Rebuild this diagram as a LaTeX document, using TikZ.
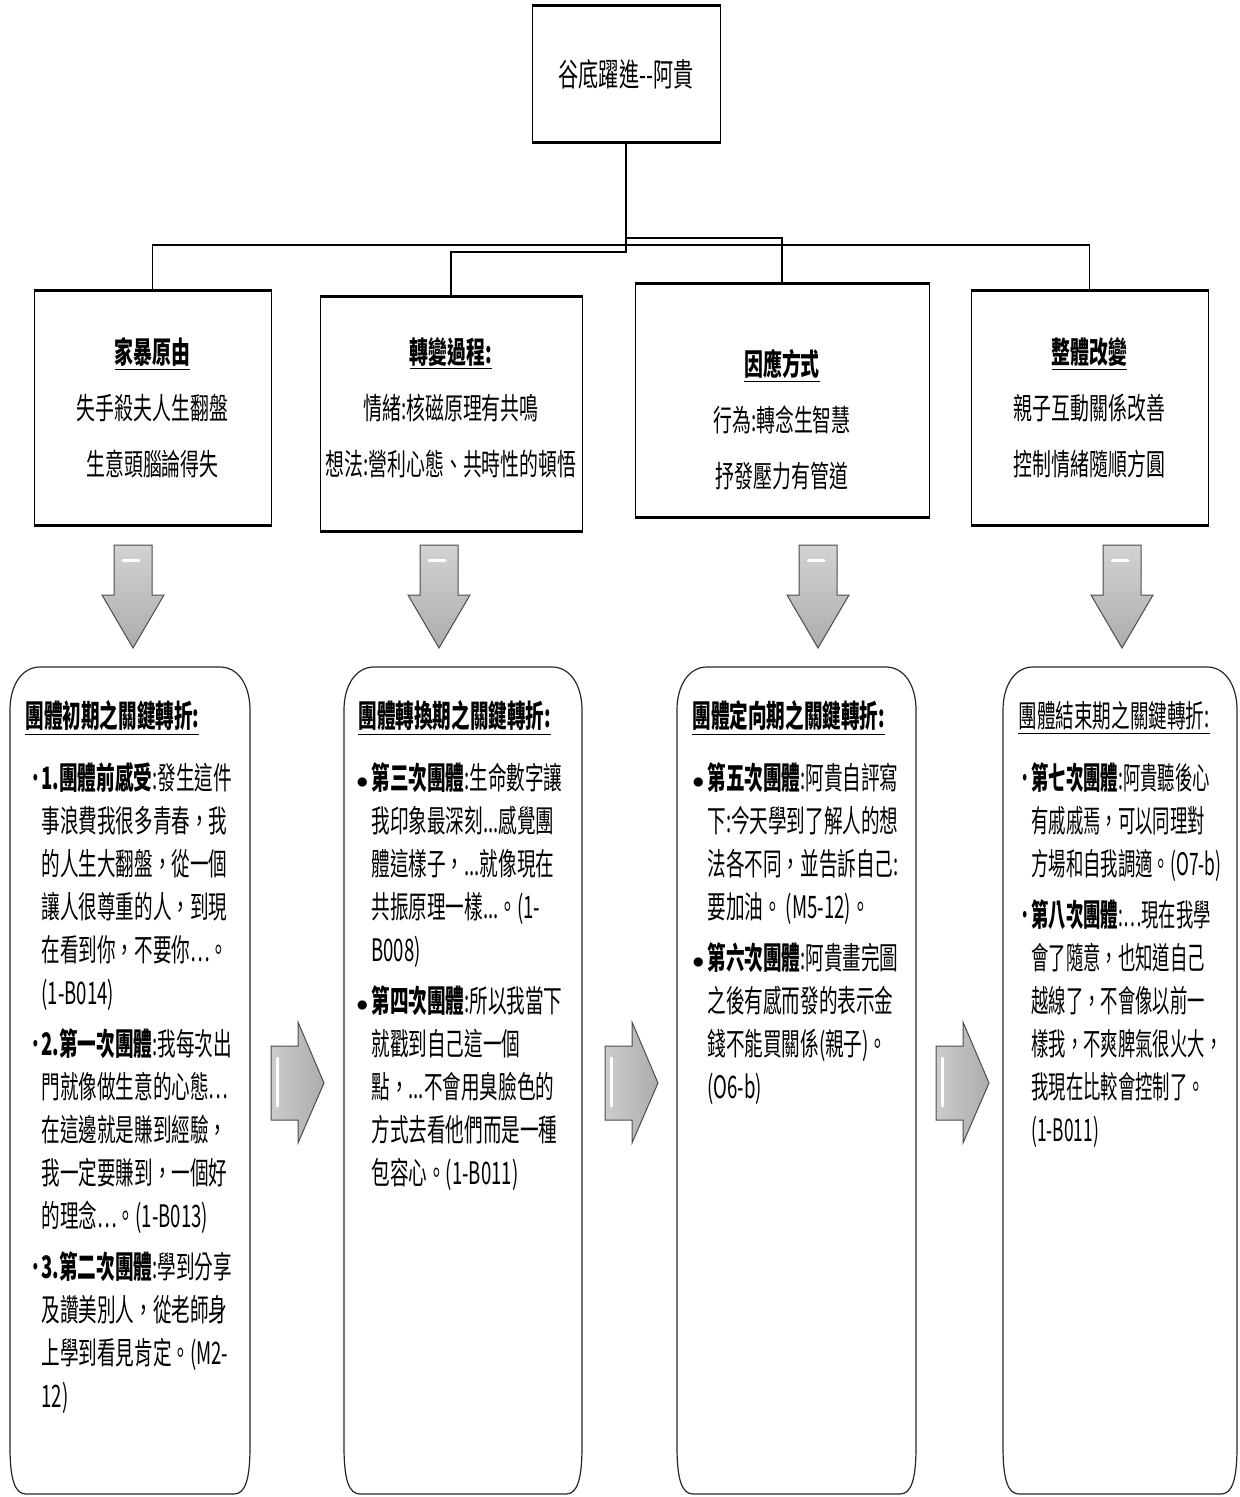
\documentclass[tikz,border=0pt]{standalone}
\usepackage{fontspec}
\setmainfont{Noto Sans CJK TC}[FakeStretch=0.63]
\newfontfamily\bodyfont{Noto Sans CJK TC}[FakeStretch=0.6]
\newfontfamily\tightfont{Noto Sans CJK TC}[FakeStretch=0.56]

\tikzset{
  boxnode/.style={draw, line width=0.5pt, align=center, inner sep=0pt,
    font=\fontsize{15}{28}\selectfont},
  rim/.style={line width=1.4pt},
  tree/.style={line width=0.6pt},
  roundbox/.style={draw=black!85, line width=0.6pt},
  stage/.style={anchor=west, inner sep=0pt, font=\bodyfont\fontsize{15.5}{20}\selectfont},
  quotes/.style={anchor=north west, align=left, inner sep=0pt,
    font=\bodyfont\fontsize{15.5}{21.5}\selectfont},
  blockarrow/.style={draw=black!70, line width=0.5pt, top color=gray!35, bottom color=gray!65},
  sidearrow/.style={draw=black!70, line width=0.5pt, left color=gray!40, right color=gray!65},
  shine/.style={white, line width=1.5pt, line cap=round}
}
\newcommand{\bul}[1]{\makebox[7.5pt][l]{#1}}
\newcommand{\dotbul}{\bul{\raisebox{0.5pt}{\large$\bullet$}}}
\newcommand{\ind}{\hspace*{7.5pt}}

\begin{document}
\begin{tikzpicture}[x=0.5pt, y=-0.5pt]
    \useasboundingbox (0,0) rectangle (1240,1497);

    % top of the tree
    \node[boxnode, minimum width=94pt, minimum height=68pt,
      font=\fontsize{16}{20}\selectfont] (top) at (626,74) {谷底躍進-{}-阿貴};

    \node[boxnode, minimum width=118.5pt, minimum height=117pt] (cause) at (152.5,408)
      {\underline{\textbf{家暴原由}}\\ 失手殺夫人生翻盤\\ 生意頭腦論得失};
    \node[boxnode, minimum width=131pt, minimum height=117pt] (change) at (451,414)
      {\underline{\textbf{轉變過程:}}\\ 情緒:核磁原理有共鳴\\ 想法:營利心態、共時性的頓悟\rule[-8pt]{0pt}{8pt}};
    \node[boxnode, minimum width=147pt, minimum height=116.5pt] (cope) at (782,400.5)
      {\rule{0pt}{32pt}\underline{\textbf{因應方式}}\\ 行為:轉念生智慧\\ 抒發壓力有管道};
    \node[boxnode, minimum width=118.5pt, minimum height=117pt] (whole) at (1089.5,408)
      {\underline{\textbf{整體改變}}\\ 親子互動關係改善\\ 控制情緒隨順方圓};

    \foreach \n in {top,cause,change,cope,whole} {
      \draw[rim] (\n.north west) -- (\n.north east);
      \draw[rim] (\n.south west) -- (\n.south east);
    }

    \coordinate (hubA) at (626,238);
    \coordinate (hubB) at (626,245);
    \coordinate (hubC) at (626,252);
    \draw[tree] (top.south) -- (hubC) -| (change.north);
    \draw[tree] (hubA) -| (cope.north);
    \draw[tree] (cause.north) |- (hubB) -| (whole.north);

    % down arrows
    \foreach \x in {133,439,818,1122} {
      \draw[blockarrow] ({\x-19},545) -- ({\x+19},545) -- ({\x+19},595) -- ({\x+31},595)
        -- (\x,648) -- ({\x-31},595) -- ({\x-19},595) -- cycle;
      \draw[shine] ({\x-10},560) -- ({\x+6},560);
    }

    % rounded boxes
    \foreach \l/\r in {10/250,344/582,677/916,1003/1237} {
      \draw[roundbox] (\l,710) -- (\l,1447) .. controls (\l,1480) and ({\l+5},1494) .. ({\l+16},1494)
        -- ({\r-16},1494) .. controls ({\r-5},1494) and (\r,1480) .. (\r,1447)
        -- (\r,710) .. controls (\r,685) and ({\r-12},667) .. ({\r-30},667)
        -- ({\l+30},667) .. controls ({\l+12},667) and (\l,685) .. (\l,710) -- cycle;
    }

    % right arrows
    \foreach \x in {271,605,936} {
      \draw[sidearrow] (\x,1046) -- ({\x+27},1046) -- ({\x+27},1022) -- ({\x+53},1083)
        -- ({\x+27},1143) -- ({\x+27},1120) -- (\x,1120) -- cycle;
      \draw[shine] ({\x+6},1058) -- ({\x+6},1106);
    }

    \node[stage] (s1) at (25,718) {\underline{\textbf{團體初期之關鍵轉折:}}};
    \node[stage] (s2) at (358,718) {\underline{\textbf{團體轉換期之關鍵轉折:}}};
    \node[stage] (s3) at (692,718) {\underline{\textbf{團體定向期之關鍵轉折:}}};
    \node[stage] (s4) at (1018,718) {\underline{團體結束期之關鍵轉折:}};

    \node[quotes] (q1) at (26,762) {%
      \bul{·}\textbf{1.團體前感受}:發生這件\\
      \ind 事浪費我很多青春，我\\
      \ind 的人生大翻盤，從一個\\
      \ind 讓人很尊重的人，到現\\
      \ind 在看到你，不要你…。\\
      \ind (1-B014)\\[4pt]
      \bul{·}\textbf{2.第一次團體}:我每次出\\
      \ind 門就像做生意的心態…\\
      \ind 在這邊就是賺到經驗，\\
      \ind 我一定要賺到，一個好\\
      \ind 的理念…。(1-B013)\\[4pt]
      \bul{·}\textbf{3.第二次團體}:學到分享\\
      \ind 及讚美別人，從老師身\\
      \ind 上學到看見肯定。(M2-\\
      \ind 12)};

    \node[quotes] (q2) at (356,762) {%
      \dotbul\textbf{第三次團體}:生命數字讓\\
      \ind 我印象最深刻...感覺團\\
      \ind 體這樣子，...就像現在\\
      \ind 共振原理一樣...。(1-\\
      \ind B008)\\[4pt]
      \dotbul\textbf{第四次團體}:所以我當下\\
      \ind 就戳到自己這一個\\
      \ind 點，...不會用臭臉色的\\
      \ind 方式去看他們而是一種\\
      \ind 包容心。(1-B011)};

    \node[quotes] (q3) at (692,762) {%
      \dotbul\textbf{第五次團體}:阿貴自評寫\\
      \ind 下:今天學到了解人的想\\
      \ind 法各不同，並告訴自己:\\
      \ind 要加油。 (M5-12)。\\[4pt]
      \dotbul\textbf{第六次團體}:阿貴畫完圖\\
      \ind 之後有感而發的表示金\\
      \ind 錢不能買關係(親子)。\\
      \ind (O6-b)};

    \node[quotes, font=\tightfont\fontsize{15.5}{21.5}\selectfont] (q4) at (1016,762) {%
      \bul{·}\textbf{第七次團體}:阿貴聽後心\\
      \ind 有戚戚焉，可以同理對\\
      \ind 方場和自我調適。(O7-b)\\[4pt]
      \bul{·}\textbf{第八次團體}:…現在我學\\
      \ind 會了隨意，也知道自己\\
      \ind 越線了，不會像以前一\\
      \ind 樣我，不爽脾氣很火大，\\
      \ind 我現在比較會控制了。\\
      \ind (1-B011)};
\end{tikzpicture}
\end{document}
